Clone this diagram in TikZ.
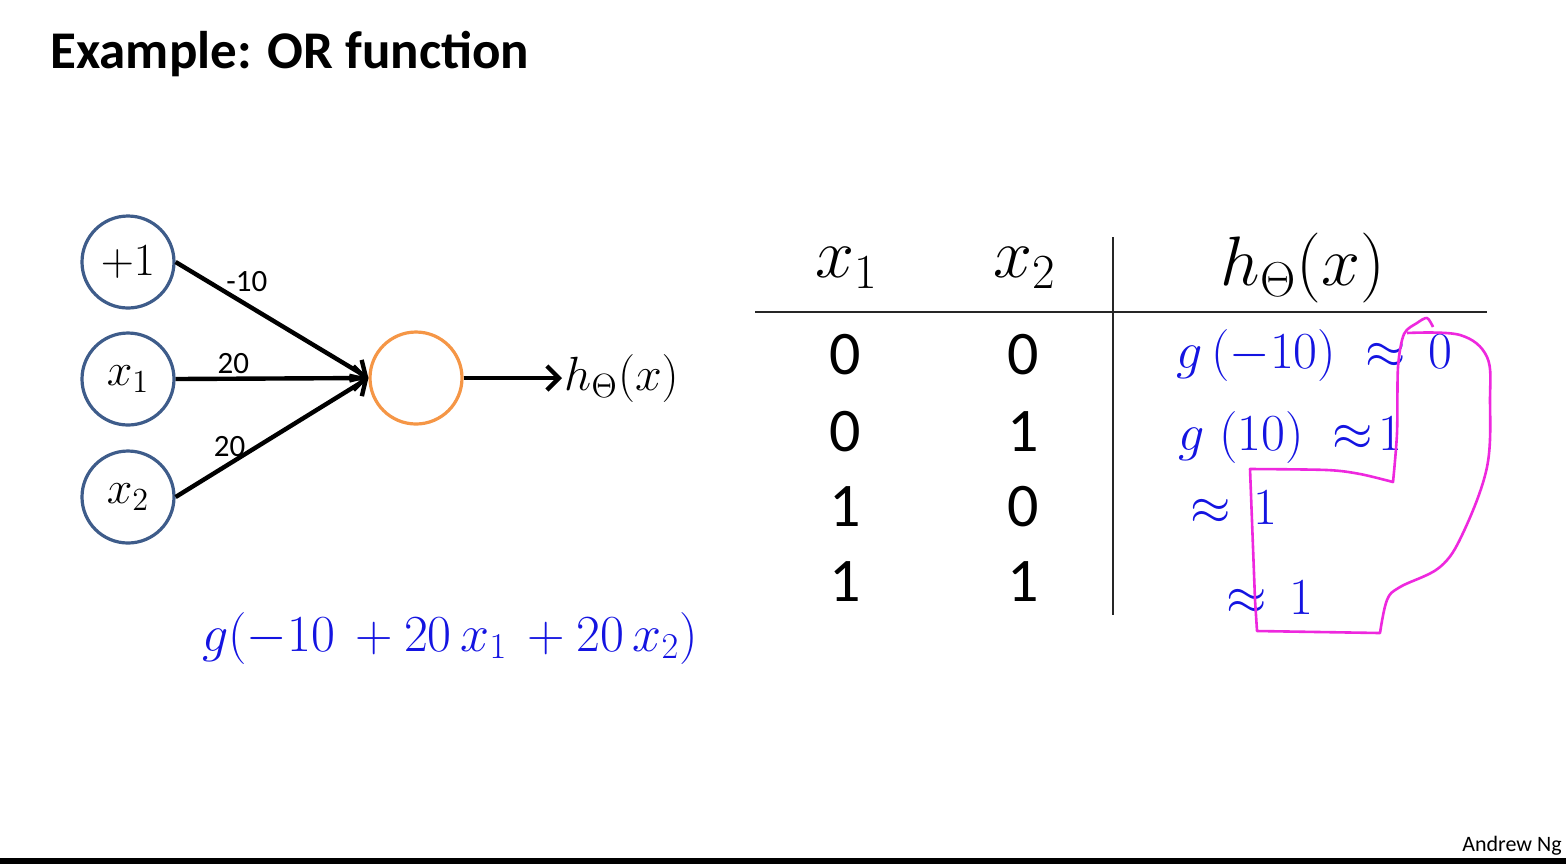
\documentclass[tikz,border=0pt]{standalone}
\usepackage{fix-cm}
\usepackage{amsmath}
\usepackage{fontspec}
\setmainfont{Carlito}
\usetikzlibrary{arrows.meta}
\definecolor{unitblue}{RGB}{62,92,138}
\definecolor{unitorange}{RGB}{245,150,70}
\definecolor{penblue}{RGB}{20,20,225}
\definecolor{penpink}{RGB}{238,40,222}

\begin{document}
\begin{tikzpicture}[x=.5pt,y=-.5pt,line width=.35pt,
  unit/.style={circle,draw=unitblue,line width=1.6pt,minimum size=46pt,inner sep=0pt,font=\fontsize{23}{27}\selectfont},
  wire/.style={line width=2.2pt,-{Straight Barb[length=6pt,width=12pt]}},
  wlabel/.style={inner sep=1.5pt,font=\fontsize{15.5}{18}\selectfont},
  head/.style={inner sep=0pt,font=\fontsize{35}{42}\selectfont},
  cell/.style={inner sep=0pt,font=\fontsize{31}{36}\selectfont},
  rule/.style={line width=1.2pt,draw=black!85},
  pen/.style={inner sep=0pt,anchor=west,text=penblue,font=\fontsize{26}{30}\selectfont}]
\useasboundingbox[fill=white] (0,0) rectangle (1566,864);
\node[anchor=base west,inner sep=0pt,font=\bfseries\fontsize{26.5}{31}\selectfont] (title) at (50,68) {Example: OR function};
% network
\node[unit] (bias) at (128,262) {$+1$};
\node[unit] (xa) at (128,379) {$x_1$};
\node[unit] (xb) at (128,497) {$x_2$};
\node[unit,draw=unitorange] (hid) at (416,378) {};
\node[anchor=west,inner sep=1pt,font=\fontsize{24}{28}\selectfont] (out) at (562,378) {$h_\Theta(x)$};
\draw[wire] (bias.east) -- node[wlabel,pos=.37,above=4pt] {-10} (hid.west);
\draw[wire] (xa.east) -- node[wlabel,pos=.3,above] {20} (hid.west);
\draw[wire] (xb.east) -- node[wlabel,pos=.28,above=1pt] {20} (hid.west);
\draw[wire] (hid.east) -- (out.west);
\node[pen,anchor=center] (sum) at (450,638) {$g(-10\,+20\,x_1\,+20\,x_2)$};
% truth table
\node[head] (hxa) at (847,268) {$x_1$};
\node[head] (hxb) at (1025,268) {$x_2$};
\node[head] (hout) at (1303,268) {$h_\Theta(x)$};
\draw[rule] (755,312) -- (1487,312);
\draw[rule] (1113,237) -- (1113,615);
\foreach \a/\b/\y [count=\i] in {0/0/355,0/1/432,1/0/507,1/1/582}{
  \node[cell] (a\i) at (845,\y) {\a};
  \node[cell] (b\i) at (1023,\y) {\b};
}
\node[pen] (r1) at (1176,355) {$g\,(-10)\;\approx\,0$};
\node[pen] (r2) at (1178,437) {$g\;(10)\;\approx\!1$};
\node[pen] (r3) at (1190,508) {$\approx\,1$};
\node[pen] (r4) at (1226,598) {$\approx\,1$};
\draw[penpink,line width=1.3pt,line join=round]
  plot[smooth,tension=.5] coordinates {(1433,327) (1427,318) (1417,323) (1404,334) (1398,367) (1397,433) (1393,482)}
  -- plot[smooth,tension=.5] coordinates {(1393,482) (1360,474) (1327,470) (1250,469)}
  -- (1255,600) -- (1257,631) -- (1380,633)
  -- plot[smooth,tension=.6] coordinates {(1380,633) (1387,600) (1400,587) (1440,567) (1463,533) (1487,467) (1490,400) (1487,357) (1460,335) (1407,333)};
\node[anchor=east,inner sep=0pt,font=\fontsize{11}{13}\selectfont] (credit) at (1562,846) {Andrew Ng};
\fill (0,858) rectangle (1566,864);
\end{tikzpicture}
\end{document}
